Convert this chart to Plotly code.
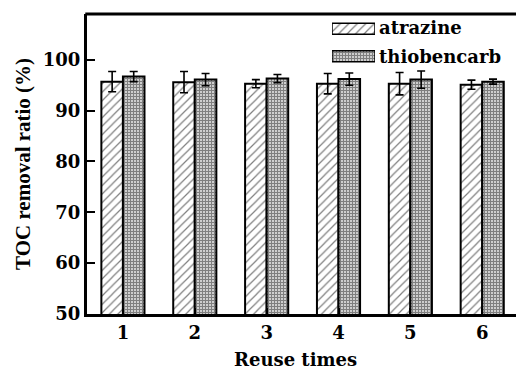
import plotly.graph_objects as go

# Reuse cycles and TOC removal (%) with standard deviations
reuse = [1, 2, 3, 4, 5, 6]
atrazine = [95.7, 95.6, 95.3, 95.3, 95.3, 95.1]
atrazine_err = [2.0, 2.1, 0.8, 2.0, 2.2, 0.9]
thiobencarb = [96.7, 96.1, 96.3, 96.2, 96.1, 95.7]
thiobencarb_err = [1.0, 1.2, 0.8, 1.2, 1.7, 0.5]
series_names = ["atrazine", "thiobencarb"]

W, H = 516, 370
L, R, T, B = 87, 0, 14, 56
PW, PH = W - L - R, H - T - B
FONT_H = "DejaVu Serif"
FONT_V = "Liberation Serif"


def px_x(px):
    return (px - L) / PW


def px_y(py):
    return (H - B - py) / PH


hatch = dict(shape="/", size=6, solidity=0.2, fgcolor="black", bgcolor="white")
grid = dict(shape="+", size=3, solidity=0.7, fgcolor="black", bgcolor="white")

fig = go.Figure()
fig.add_trace(go.Bar(
    x=reuse, y=atrazine, name=series_names[0], width=0.3, offset=-0.3,
    marker=dict(color="white", pattern=hatch, line=dict(color="black", width=2)),
    error_y=dict(type="data", array=atrazine_err, color="black", thickness=1.6, width=4),
    showlegend=False,
))
fig.add_trace(go.Bar(
    x=reuse, y=thiobencarb, name=series_names[1], width=0.3, offset=0.0,
    marker=dict(color="white", pattern=grid, line=dict(color="black", width=2)),
    error_y=dict(type="data", array=thiobencarb_err, color="black", thickness=1.6, width=4),
    showlegend=False,
))

# Legend swatches drawn on their own small axis pair
fig.add_trace(go.Bar(
    x=[1], y=[series_names[0]], orientation="h", xaxis="x2", yaxis="y2", width=0.4,
    marker=dict(color="white", pattern=hatch, line=dict(color="black", width=1.5)),
    showlegend=False, hoverinfo="skip",
))
fig.add_trace(go.Bar(
    x=[1], y=[series_names[1]], orientation="h", xaxis="x2", yaxis="y2", width=0.4,
    marker=dict(color="white", pattern=grid, line=dict(color="black", width=1.5)),
    showlegend=False, hoverinfo="skip",
))

tick_font = dict(family=FONT_H, size=18, color="black", weight="bold")

fig.update_layout(
    width=W, height=H,
    margin=dict(l=L, r=R, t=T, b=B),
    paper_bgcolor="white", plot_bgcolor="white",
    font=dict(family=FONT_H, size=18, color="black"),
    barmode="overlay",
    xaxis=dict(
        range=[0.5, 6.47], tickmode="array", tickvals=reuse, ticktext=[str(v) for v in reuse],
        ticks="inside", ticklen=6, tickwidth=2, tickcolor="black",
        showline=True, linewidth=3, linecolor="black", mirror=False,
        showgrid=False, zeroline=False, tickfont=tick_font,
    ),
    yaxis=dict(
        range=[50, 109], tickvals=[50, 60, 70, 80, 90, 100],
        ticks="inside", ticklen=8, tickwidth=2, tickcolor="black",
        showline=True, linewidth=3, linecolor="black",
        showgrid=False, zeroline=False, tickfont=tick_font,
    ),
    xaxis2=dict(domain=[px_x(332), px_x(375)], range=[0, 1],
                anchor="y2", visible=False, fixedrange=True),
    yaxis2=dict(domain=[px_y(70), px_y(15)], anchor="x2",
                categoryorder="array", categoryarray=[series_names[1], series_names[0]],
                visible=False, fixedrange=True),
)

# Top frame line
fig.add_shape(type="line", xref="paper", yref="paper", x0=-0.004, x1=1.0, y0=1, y1=1,
              line=dict(color="black", width=3))

# Axis titles
fig.add_annotation(
    xref="paper", yref="paper", x=px_x(295), y=px_y(359), text="Reuse times",
    showarrow=False, xanchor="center", yanchor="middle",
    font=dict(family=FONT_H, size=18, color="black", weight="bold"),
)
fig.add_annotation(
    xref="paper", yref="paper", x=px_x(23), y=px_y(164), text="TOC removal ratio (%)",
    showarrow=False, xanchor="center", yanchor="middle", textangle=-90,
    font=dict(family=FONT_V, size=21, color="black", weight="bold"),
)

# Legend labels
for name, ypix in zip(series_names, [28, 57]):
    fig.add_annotation(
        xref="paper", yref="paper", x=px_x(377), y=px_y(ypix),
        text=name, showarrow=False, xanchor="left", yanchor="middle",
        font=dict(family=FONT_H, size=18, color="black", weight="bold"),
    )

# Keep the page free of scrollbars
page_css = (
    "document.documentElement.style.overflow='hidden';"
    "document.body.style.margin='0';document.body.style.overflow='hidden';"
)
fig.write_html("out.html", post_script=page_css,
               config={"staticPlot": True, "displayModeBar": False})
